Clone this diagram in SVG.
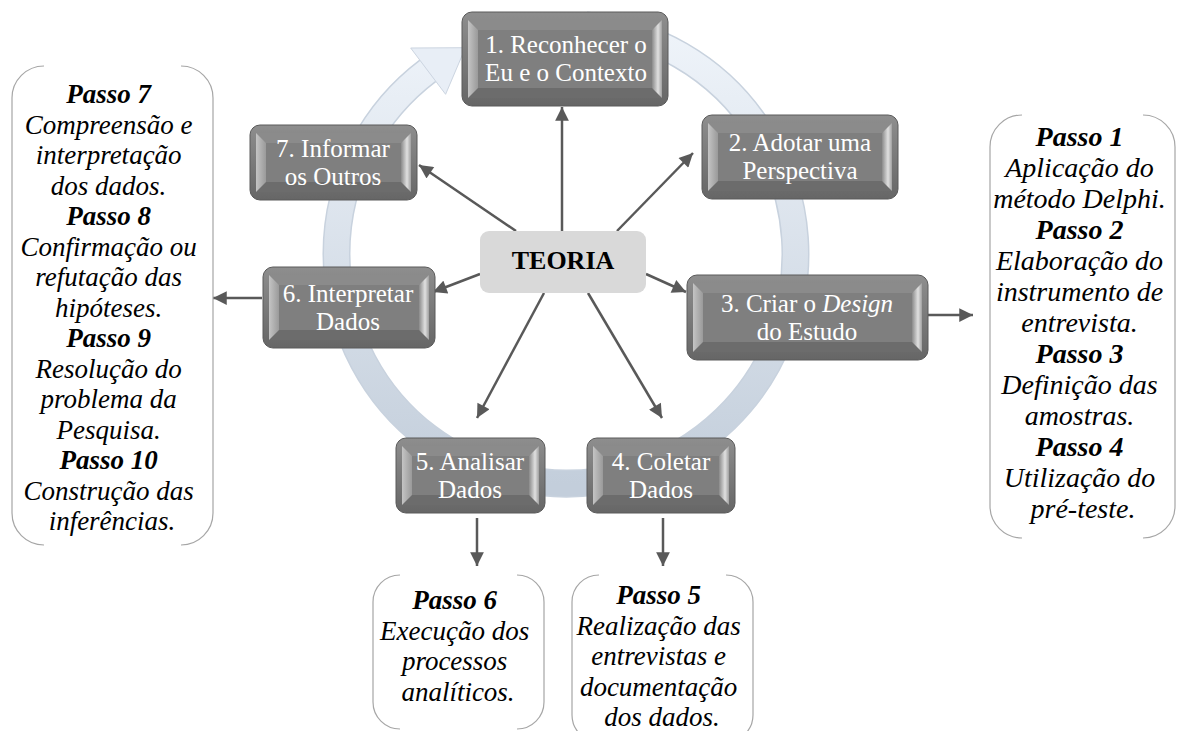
<svg xmlns="http://www.w3.org/2000/svg" width="1177" height="731" viewBox="0 0 1177 731">
<style>
.ntext{font-family:"Liberation Serif","Times New Roman",serif;font-size:25px;fill:#ffffff;text-anchor:middle}
.ptext{font-family:"Liberation Serif","Times New Roman",serif;font-size:27px;font-style:italic;fill:#000;text-anchor:middle}
.big{font-size:28px}
.pb{font-weight:bold}
.outer{fill:url(#nodeG);stroke:#5a5a5a;stroke-width:1}
.face{fill:#7f7f7f}
.bl{fill:url(#bevL)}
.br{fill:url(#bevR)}
.bt{fill:#8b8b8b}
.bb{fill:#6c6c6c}
.brk{fill:none;stroke:#a6a6a6;stroke-width:1.2}
.conn{fill:none;stroke:#595959;stroke-width:2.5;marker-end:url(#ah)}
</style>
<defs>
<linearGradient id="nodeG" x1="0" y1="0" x2="0" y2="1">
<stop offset="0" stop-color="#8e8e8e"/><stop offset="1" stop-color="#666666"/>
</linearGradient>
<linearGradient id="bevL" x1="0" y1="0" x2="1" y2="0">
<stop offset="0" stop-color="#c4c4c4"/><stop offset="1" stop-color="#9a9a9a"/>
</linearGradient>
<linearGradient id="bevR" x1="0" y1="0" x2="1" y2="0">
<stop offset="0" stop-color="#8a8a8a"/><stop offset="0.6" stop-color="#e0e0e0"/><stop offset="1" stop-color="#a0a0a0"/>
</linearGradient>
<linearGradient id="ringG" x1="0" y1="0" x2="0" y2="1">
<stop offset="0" stop-color="#eff4fa"/><stop offset="1" stop-color="#c3cedb"/>
</linearGradient>
<marker id="ah" viewBox="0 0 10 10" refX="10" refY="5" markerWidth="6" markerHeight="5.5" orient="auto" markerUnits="strokeWidth">
<path d="M0,0 L10,5 L0,10 z" fill="#595959"/>
</marker>
</defs>

<g id="cycle-ring">
<path d="M586.0,25.4 A229.5,229.5 0 1 1 427.9,70.7" fill="none" stroke="#c8d2de" stroke-width="28"/>
<path d="M586.0,25.4 A229.5,229.5 0 1 1 427.9,70.7" fill="none" stroke="url(#ringG)" stroke-width="25"/>
<polygon points="410.7,48.0 465.4,47.7 445.6,94.3" fill="#e8eef6" stroke="#ccd5e1" stroke-width="1"/>
</g>

<g id="connectors">
<path class="conn" d="M562,231 L562,107"/>
<path class="conn" d="M516,231 L419,165"/>
<path class="conn" d="M617,231 L693,153"/>
<path class="conn" d="M480,274 L433,292"/>
<path class="conn" d="M646,274 L686,292"/>
<path class="conn" d="M544,293 L477,418"/>
<path class="conn" d="M588,293 L662,418"/>
<path class="conn" d="M262,298 L213,298"/>
<path class="conn" d="M928,315 L973,315"/>
<path class="conn" d="M477,518 L477,566"/>
<path class="conn" d="M663,518 L663,566"/>
</g>

<g id="teoria">
<rect x="480" y="231" width="166" height="62" rx="9" fill="#d9d9d9"/>
<text x="563" y="269" font-family="Liberation Serif, Times New Roman, serif" font-size="26" font-weight="bold" text-anchor="middle" fill="#000">TEORIA</text>
</g>

<g id="node1">
<rect class="outer" x="462" y="12" width="206" height="94" rx="10"/>
<polygon class="bt" points="468,20 662,20 652,30 478,30"/>
<polygon class="bb" points="468,98 662,98 652,88 478,88"/>
<polygon class="bl" points="468,20 478,30 478,88 468,98"/>
<polygon class="br" points="662,20 652,30 652,88 662,98"/>
<rect class="face" x="478" y="30" width="174" height="58"/>
<text class="ntext"><tspan x="566" y="53">1. Reconhecer o</tspan><tspan x="566" y="81">Eu e o Contexto</tspan></text>
</g>

<g id="node2">
<rect class="outer" x="702" y="115" width="196" height="84" rx="10"/>
<polygon class="bt" points="708,123 892,123 882,133 718,133"/>
<polygon class="bb" points="708,191 892,191 882,181 718,181"/>
<polygon class="bl" points="708,123 718,133 718,181 708,191"/>
<polygon class="br" points="892,123 882,133 882,181 892,191"/>
<rect class="face" x="718" y="133" width="164" height="48"/>
<text class="ntext"><tspan x="800" y="151">2. Adotar uma</tspan><tspan x="800" y="179">Perspectiva</tspan></text>
</g>

<g id="node3">
<rect class="outer" x="687" y="275" width="241" height="85" rx="10"/>
<polygon class="bt" points="693,283 922,283 912,293 703,293"/>
<polygon class="bb" points="693,352 922,352 912,342 703,342"/>
<polygon class="bl" points="693,283 703,293 703,342 693,352"/>
<polygon class="br" points="922,283 912,293 912,342 922,352"/>
<rect class="face" x="703" y="293" width="209" height="49"/>
<text class="ntext"><tspan x="807" y="312">3. Criar o <tspan font-style="italic">Design</tspan></tspan><tspan x="807" y="340">do Estudo</tspan></text>
</g>

<g id="node4">
<rect class="outer" x="587" y="438" width="148" height="75" rx="10"/>
<polygon class="bt" points="593,446 729,446 719,456 603,456"/>
<polygon class="bb" points="593,505 729,505 719,495 603,495"/>
<polygon class="bl" points="593,446 603,456 603,495 593,505"/>
<polygon class="br" points="729,446 719,456 719,495 729,505"/>
<rect class="face" x="603" y="456" width="116" height="39"/>
<text class="ntext"><tspan x="661" y="470">4. Coletar</tspan><tspan x="661" y="498">Dados</tspan></text>
</g>

<g id="node5">
<rect class="outer" x="396" y="438" width="149" height="75" rx="10"/>
<polygon class="bt" points="402,446 539,446 529,456 412,456"/>
<polygon class="bb" points="402,505 539,505 529,495 412,495"/>
<polygon class="bl" points="402,446 412,456 412,495 402,505"/>
<polygon class="br" points="539,446 529,456 529,495 539,505"/>
<rect class="face" x="412" y="456" width="117" height="39"/>
<text class="ntext"><tspan x="470" y="470">5. Analisar</tspan><tspan x="470" y="498">Dados</tspan></text>
</g>

<g id="node6">
<rect class="outer" x="263" y="267" width="172" height="81" rx="10"/>
<polygon class="bt" points="269,275 429,275 419,285 279,285"/>
<polygon class="bb" points="269,340 429,340 419,330 279,330"/>
<polygon class="bl" points="269,275 279,285 279,330 269,340"/>
<polygon class="br" points="429,275 419,285 419,330 429,340"/>
<rect class="face" x="279" y="285" width="140" height="45"/>
<text class="ntext"><tspan x="348" y="302">6. Interpretar</tspan><tspan x="348" y="330">Dados</tspan></text>
</g>

<g id="node7">
<rect class="outer" x="250" y="125" width="167" height="75" rx="10"/>
<polygon class="bt" points="256,133 411,133 401,143 266,143"/>
<polygon class="bb" points="256,192 411,192 401,182 266,182"/>
<polygon class="bl" points="256,133 266,143 266,182 256,192"/>
<polygon class="br" points="411,133 401,143 401,182 411,192"/>
<rect class="face" x="266" y="143" width="135" height="39"/>
<text class="ntext"><tspan x="333" y="157">7. Informar</tspan><tspan x="333" y="185">os Outros</tspan></text>
</g>

<g id="box-steps-1-4">
<path class="brk" d="M1022,115 A32,32 0 0 0 990,147 L990,506 A32,32 0 0 0 1022,538"/>
<path class="brk" d="M1143,115 A32,32 0 0 1 1175,147 L1175,506 A32,32 0 0 1 1143,538"/>
<text class="ptext big">
<tspan class="pb" x="1083" y="146">Passo 1</tspan>
<tspan x="1083" dy="31">Aplicação do</tspan>
<tspan x="1083" dy="31">método Delphi.</tspan>
<tspan class="pb" x="1083" dy="31">Passo 2</tspan>
<tspan x="1083" dy="31">Elaboração do</tspan>
<tspan x="1083" dy="31">instrumento de</tspan>
<tspan x="1083" dy="31">entrevista.</tspan>
<tspan class="pb" x="1083" dy="31">Passo 3</tspan>
<tspan x="1083" dy="31">Definição das</tspan>
<tspan x="1083" dy="31">amostras.</tspan>
<tspan class="pb" x="1083" dy="31">Passo 4</tspan>
<tspan x="1083" dy="31">Utilização do</tspan>
<tspan x="1083" dy="31">pré-teste.</tspan>
</text>
</g>

<g id="box-step-5">
<path class="brk" d="M599,575 A27,27 0 0 0 572,602 L572,715 A27,27 0 0 0 599,742"/>
<path class="brk" d="M726,575 A27,27 0 0 1 753,602 L753,715 A27,27 0 0 1 726,742"/>
<text class="ptext">
<tspan class="pb" x="662" y="604">Passo 5</tspan>
<tspan x="662" dy="30.5">Realização das</tspan>
<tspan x="662" dy="30.5">entrevistas e</tspan>
<tspan x="662" dy="30.5">documentação</tspan>
<tspan x="662" dy="30.5">dos dados.</tspan>
</text>
</g>

<g id="box-step-6">
<path class="brk" d="M400,575 A27,27 0 0 0 373,602 L373,702 A27,27 0 0 0 400,729"/>
<path class="brk" d="M517,575 A27,27 0 0 1 544,602 L544,702 A27,27 0 0 1 517,729"/>
<text class="ptext">
<tspan class="pb" x="458" y="609">Passo 6</tspan>
<tspan x="458" dy="30.7">Execução dos</tspan>
<tspan x="458" dy="30.7">processos</tspan>
<tspan x="458" dy="30.7">analíticos.</tspan>
</text>
</g>

<g id="box-steps-7-10">
<path class="brk" d="M44,66 A32,32 0 0 0 12,98 L12,513 A32,32 0 0 0 44,545"/>
<path class="brk" d="M181,66 A32,32 0 0 1 213,98 L213,513 A32,32 0 0 1 181,545"/>
<text class="ptext">
<tspan class="pb" x="112" y="103">Passo 7</tspan>
<tspan x="112" dy="30.5">Compreensão e</tspan>
<tspan x="112" dy="30.5">interpretação</tspan>
<tspan x="112" dy="30.5">dos dados.</tspan>
<tspan class="pb" x="112" dy="30.5">Passo 8</tspan>
<tspan x="112" dy="30.5">Confirmação ou</tspan>
<tspan x="112" dy="30.5">refutação das</tspan>
<tspan x="112" dy="30.5">hipóteses.</tspan>
<tspan class="pb" x="112" dy="30.5">Passo 9</tspan>
<tspan x="112" dy="30.5">Resolução do</tspan>
<tspan x="112" dy="30.5">problema da</tspan>
<tspan x="112" dy="30.5">Pesquisa.</tspan>
<tspan class="pb" x="112" dy="30.5">Passo 10</tspan>
<tspan x="112" dy="30.5">Construção das</tspan>
<tspan x="112" dy="30.5">inferências.</tspan>
</text>
</g>
</svg>
